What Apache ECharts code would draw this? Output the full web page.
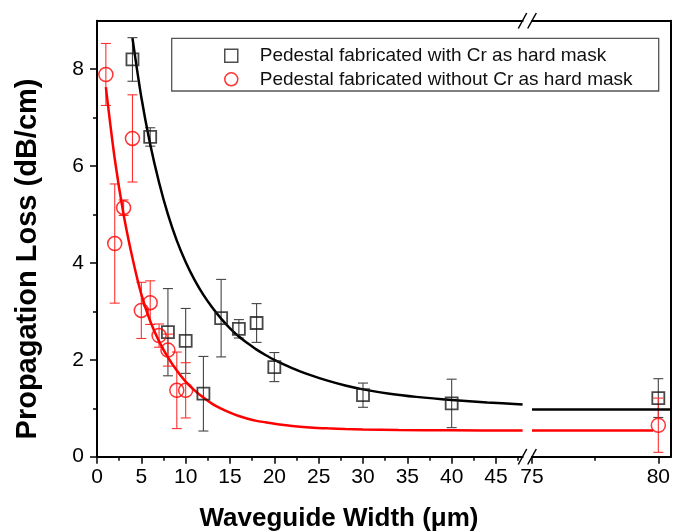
<!DOCTYPE html>
<html>
<head>
<meta charset="utf-8">
<script src="https://cdn.jsdelivr.net/npm/echarts@6/dist/echarts.min.js"></script>
<style>html,body{margin:0;padding:0;background:#fff;}#c{width:673px;height:532px;}</style>
</head>
<body>
<div id="c"></div>
<script>
// ---- data ----
const nameCr = 'Pedestal fabricated with Cr as hard mask';
const nameNoCr = 'Pedestal fabricated without Cr as hard mask';

const widthCr = [4, 6, 8, 10, 12, 14, 16, 18, 20, 30, 40, 80];
const lossCr  = [8.2, 6.6, 2.57, 2.39, 1.30, 2.86, 2.64, 2.76, 1.85, 1.27, 1.10, 1.21];
const errCr   = [0.45, 0.19, 0.9, 0.67, 0.77, 0.8, 0.19, 0.4, 0.3, 0.25, 0.5, 0.4];

const widthNoCr = [1, 2, 3, 4, 5, 6, 7, 8, 9, 10, 80];
const lossNoCr  = [7.89, 4.40, 5.14, 6.57, 3.02, 3.18, 2.50, 2.20, 1.37, 1.37, 0.65];
const errNoCr   = [0.64, 1.23, 0.16, 0.9, 0.58, 0.45, 0.24, 0.33, 0.79, 0.57, 0.56];

// fitted curves
const fitCrX = [4, 5, 6, 7, 8, 9, 10, 11, 12, 13, 14, 15, 16, 17, 18, 19, 20, 22, 24, 26, 28, 30, 33, 36, 40, 44, 48];
const fitCrY = [8.64, 7.42, 6.45, 5.66, 5.0, 4.46, 4.02, 3.65, 3.34, 3.08, 2.85, 2.65, 2.48, 2.34, 2.21, 2.10, 2.0, 1.83, 1.69, 1.57, 1.47, 1.39, 1.30, 1.235, 1.17, 1.12, 1.08];
const fitCrTailX = [75, 80.5];
const fitCrTailY = [0.975, 0.975];

const fitNoCrX = [1, 2, 3, 4, 5, 6, 7, 8, 9, 10, 11, 12, 13, 14, 15, 16, 17, 18, 19, 20, 22, 24, 26, 28, 30, 34, 40, 48];
const fitNoCrY = [7.63, 6.15, 5.0, 4.1, 3.35, 2.8, 2.38, 2.05, 1.78, 1.55, 1.37, 1.22, 1.09, 0.99, 0.91, 0.84, 0.785, 0.74, 0.71, 0.68, 0.635, 0.605, 0.585, 0.57, 0.56, 0.55, 0.545, 0.54];
const fitNoCrTailX = [75, 79.8];
const fitNoCrTailY = [0.54, 0.54];

const xLeftMajor = [0, 5, 10, 15, 20, 25, 30, 35, 40, 45];
const xLeftMinor = [2.5, 7.5, 12.5, 17.5, 22.5, 27.5, 32.5, 37.5, 42.5, 47.5];
const xRightMajor = [75, 80];
const xRightMinor = [77.5];
const yMajor = [0, 2, 4, 6, 8];
const yMinor = [1, 3, 5, 7];

// ---- helpers to build library data ----
const zip = (xs, ys) => xs.map((x, i) => [x, ys[i]]);
const LEFT_MAX = 48;
const inLeft = x => x <= LEFT_MAX;
const pts = (xs, ys, f) => xs.map((x, i) => [x, ys[i]]).filter(p => f(p[0]));
const errs = (xs, ys, es, f) => xs.map((x, i) => [x, ys[i] - es[i], ys[i] + es[i]]).filter(p => f(p[0]));

function errRender(params, api) {
  const x = api.value(0), lo = api.value(1), hi = api.value(2);
  const a = api.coord([x, hi]), b = api.coord([x, lo]);
  const hw = 5;
  const style = { stroke: api.visual('color'), lineWidth: 1.1 };
  return { type: 'group', children: [
    { type: 'line', shape: { x1: a[0], y1: a[1], x2: b[0], y2: b[1] }, style },
    { type: 'line', shape: { x1: a[0] - hw, y1: a[1], x2: a[0] + hw, y2: a[1] }, style },
    { type: 'line', shape: { x1: b[0] - hw, y1: b[1], x2: b[0] + hw, y2: b[1] }, style }
  ]};
}

const FONT = 'Liberation Sans, Arial, sans-serif';
const axisLine = { show: true, onZero: false, lineStyle: { color: '#000', width: 2 } };
const noLine = { show: false, onZero: false };
const lbl = vals => ({ show: true, customValues: vals, fontSize: 21, fontFamily: FONT, color: '#000' });

const GT = 20.7, GB = 75.3;
const option = {
  animation: false,
  backgroundColor: '#fff',
  grid: [
    { left: 97, top: GT, bottom: GB, right: 673 - 522.6 },
    { left: 532, top: GT, bottom: GB, right: 2 }
  ],
  xAxis: [
    { type: 'value', gridIndex: 0, position: 'bottom', min: 0, max: LEFT_MAX, axisLine,
      axisTick: { show: true, customValues: xLeftMajor, length: 7, lineStyle: { color: '#000', width: 1.5 } },
      axisLabel: Object.assign(lbl(xLeftMajor), { margin: 10 }), splitLine: { show: false } },
    { type: 'value', gridIndex: 0, position: 'bottom', min: 0, max: LEFT_MAX, axisLine: noLine,
      axisTick: { show: true, customValues: xLeftMinor, length: 4, lineStyle: { color: '#000', width: 1.5 } },
      axisLabel: { show: false }, splitLine: { show: false } },
    { type: 'value', gridIndex: 0, position: 'top', min: 0, max: LEFT_MAX, axisLine,
      axisTick: { show: false }, axisLabel: { show: false }, splitLine: { show: false } },
    { type: 'value', gridIndex: 1, position: 'bottom', min: 75, max: 80.5, axisLine,
      axisTick: { show: true, customValues: xRightMajor, length: 7, lineStyle: { color: '#000', width: 1.5 } },
      axisLabel: Object.assign(lbl(xRightMajor), { margin: 10 }), splitLine: { show: false } },
    { type: 'value', gridIndex: 1, position: 'bottom', min: 75, max: 80.5, axisLine: noLine,
      axisTick: { show: true, customValues: xRightMinor, length: 4, lineStyle: { color: '#000', width: 1.5 } },
      axisLabel: { show: false }, splitLine: { show: false } },
    { type: 'value', gridIndex: 1, position: 'top', min: 75, max: 80.5, axisLine,
      axisTick: { show: false }, axisLabel: { show: false }, splitLine: { show: false } }
  ],
  yAxis: [
    { type: 'value', gridIndex: 0, position: 'left', min: 0, max: 9, axisLine,
      axisTick: { show: true, customValues: yMajor, length: 7, lineStyle: { color: '#000', width: 1.5 } },
      axisLabel: Object.assign(lbl(yMajor), { margin: 13 }), splitLine: { show: false } },
    { type: 'value', gridIndex: 0, position: 'left', min: 0, max: 9, axisLine: noLine,
      axisTick: { show: true, customValues: yMinor, length: 4, lineStyle: { color: '#000', width: 1.5 } },
      axisLabel: { show: false }, splitLine: { show: false } },
    { type: 'value', gridIndex: 1, position: 'right', min: 0, max: 9, axisLine,
      axisTick: { show: false }, axisLabel: { show: false }, splitLine: { show: false } }
  ],
  legend: {
    data: [
      { name: nameCr, icon: 'rect', itemStyle: { color: 'rgba(0,0,0,0)', borderColor: '#222', borderWidth: 1.5 } },
      { name: nameNoCr, icon: 'circle', itemStyle: { color: 'rgba(0,0,0,0)', borderColor: '#ff0000', borderWidth: 1.5 } }
    ],
    orient: 'vertical', left: 224, top: 45.7, itemWidth: 13, itemHeight: 13, itemGap: 3.6,
    selectedMode: false, padding: 0,
    textStyle: { fontSize: 19, fontFamily: FONT, color: '#111', lineHeight: 20, padding: [0, 0, 0, 17] }
  },
  graphic: [
    { type: 'rect', shape: { x: 171.7, y: 38.3, width: 487, height: 52.7 }, style: { fill: 'none', stroke: '#555', lineWidth: 1.3 }, z: 1 },
    { type: 'line', shape: { x1: 518.3, y1: 464.5, x2: 526.7, y2: 449 }, style: { stroke: '#000', lineWidth: 1.5 }, z: 10 },
    { type: 'line', shape: { x1: 527.7, y1: 464.5, x2: 536.3, y2: 449 }, style: { stroke: '#000', lineWidth: 1.5 }, z: 10 },
    { type: 'line', shape: { x1: 518.3, y1: 28.5, x2: 526.7, y2: 13 }, style: { stroke: '#000', lineWidth: 1.5 }, z: 10 },
    { type: 'line', shape: { x1: 527.7, y1: 28.5, x2: 536.3, y2: 13 }, style: { stroke: '#000', lineWidth: 1.5 }, z: 10 },
    { type: 'text', x: 339, y: 519, style: { text: 'Waveguide Width (μm)', font: 'bold 26px ' + FONT, fill: '#000', textAlign: 'center', textVerticalAlign: 'middle' } },
    { type: 'text', x: 27.5, y: 259, rotation: Math.PI / 2, style: { text: 'Propagation Loss (dB/cm)', font: 'bold 29px ' + FONT, fill: '#000', textAlign: 'center', textVerticalAlign: 'middle' } }
  ],
  series: [
    { type: 'line', xAxisIndex: 0, yAxisIndex: 0, data: zip(fitCrX, fitCrY), smooth: 0.3, showSymbol: false, lineStyle: { color: '#000', width: 2.5 }, z: 3 },
    { type: 'line', xAxisIndex: 3, yAxisIndex: 2, data: zip(fitCrTailX, fitCrTailY), showSymbol: false, lineStyle: { color: '#000', width: 2.5 }, z: 3 },
    { type: 'line', xAxisIndex: 0, yAxisIndex: 0, data: zip(fitNoCrX, fitNoCrY), smooth: 0.3, showSymbol: false, lineStyle: { color: '#ff0000', width: 2.5 }, z: 3 },
    { type: 'line', xAxisIndex: 3, yAxisIndex: 2, data: zip(fitNoCrTailX, fitNoCrTailY), showSymbol: false, lineStyle: { color: '#ff0000', width: 2.5 }, z: 3 },
    { type: 'custom', xAxisIndex: 0, yAxisIndex: 0, renderItem: errRender, itemStyle: { color: '#444' }, encode: { x: 0, y: [1, 2] }, data: errs(widthCr, lossCr, errCr, inLeft), z: 2 },
    { type: 'custom', xAxisIndex: 3, yAxisIndex: 2, renderItem: errRender, itemStyle: { color: '#444' }, encode: { x: 0, y: [1, 2] }, data: errs(widthCr, lossCr, errCr, x => !inLeft(x)), z: 2 },
    { type: 'custom', xAxisIndex: 0, yAxisIndex: 0, renderItem: errRender, itemStyle: { color: '#ff3030' }, encode: { x: 0, y: [1, 2] }, data: errs(widthNoCr, lossNoCr, errNoCr, inLeft), z: 2 },
    { type: 'custom', xAxisIndex: 3, yAxisIndex: 2, renderItem: errRender, itemStyle: { color: '#ff3030' }, encode: { x: 0, y: [1, 2] }, data: errs(widthNoCr, lossNoCr, errNoCr, x => !inLeft(x)), z: 2 },
    { name: nameCr, type: 'scatter', xAxisIndex: 0, yAxisIndex: 0, symbol: 'rect', symbolSize: 12, data: pts(widthCr, lossCr, inLeft), itemStyle: { color: 'rgba(0,0,0,0)', borderColor: '#1a1a1a', borderWidth: 1.8 }, z: 4 },
    { name: nameCr, type: 'scatter', xAxisIndex: 3, yAxisIndex: 2, symbol: 'rect', symbolSize: 12, data: pts(widthCr, lossCr, x => !inLeft(x)), itemStyle: { color: 'rgba(0,0,0,0)', borderColor: '#1a1a1a', borderWidth: 1.8 }, z: 4 },
    { name: nameNoCr, type: 'scatter', xAxisIndex: 0, yAxisIndex: 0, symbol: 'circle', symbolSize: 14, data: pts(widthNoCr, lossNoCr, inLeft), itemStyle: { color: 'rgba(0,0,0,0)', borderColor: '#ff0000', borderWidth: 1.5 }, z: 4 },
    { name: nameNoCr, type: 'scatter', xAxisIndex: 3, yAxisIndex: 2, symbol: 'circle', symbolSize: 14, data: pts(widthNoCr, lossNoCr, x => !inLeft(x)), itemStyle: { color: 'rgba(0,0,0,0)', borderColor: '#ff0000', borderWidth: 1.5 }, z: 4 }
  ]
};
const chart = echarts.init(document.getElementById('c'), null, { renderer: 'canvas' });
chart.setOption(option);
</script>
</body>
</html>
